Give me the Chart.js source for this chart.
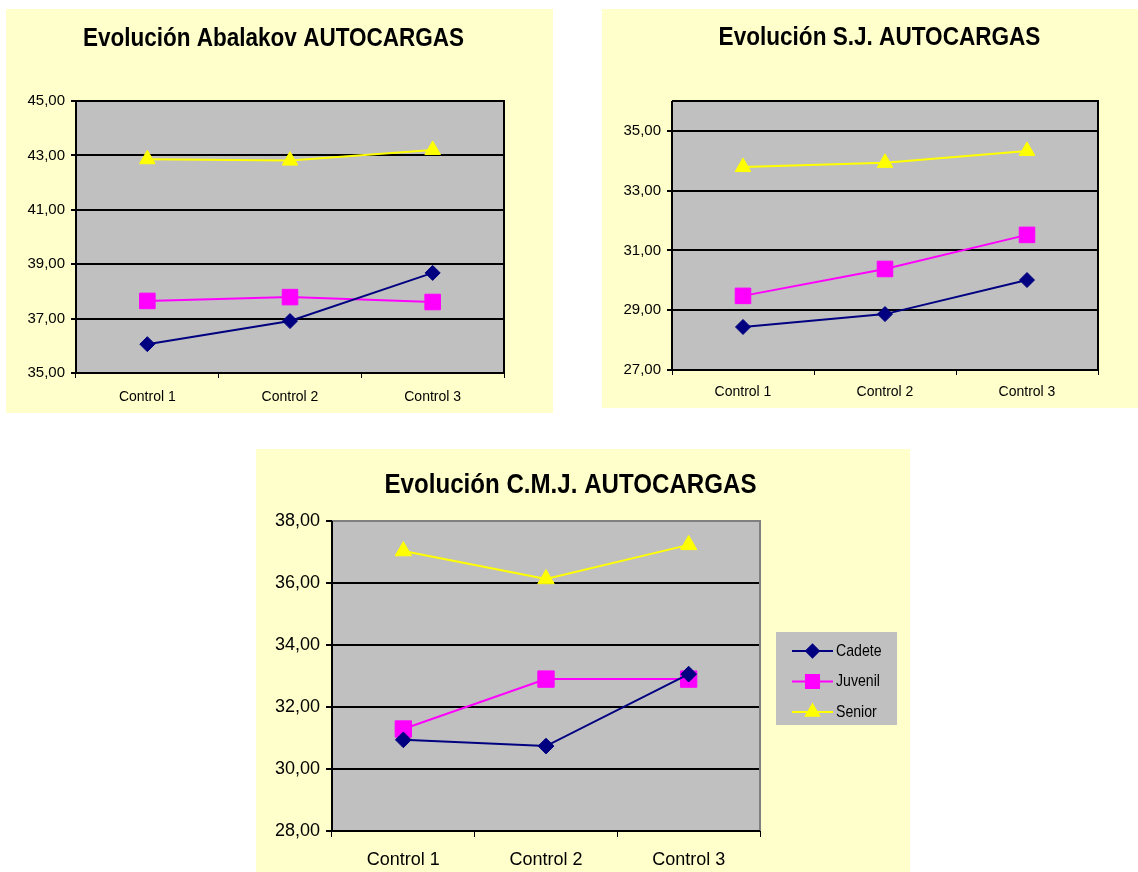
<!DOCTYPE html>
<html lang="es">
<head>
  <meta charset="UTF-8">
  <title>Evolución AUTOCARGAS</title>
  <script src="https://cdn.jsdelivr.net/npm/chart.js"></script>
  <style>
    body { margin: 0; background: #ffffff; }
    .panel { position: absolute; background: #ffffcc; }
    .panel canvas { display: block; }
  </style>
</head>
<body>
  <div class="panel" style="left:6px; top:9px; width:547px; height:404px;">
    <canvas id="abalakovChart" width="547" height="404"></canvas>
  </div>
  <div class="panel" style="left:602px; top:9px; width:536px; height:399px;">
    <canvas id="sjChart" width="536" height="399"></canvas>
  </div>
  <div class="panel" style="left:256px; top:449px; width:654px; height:423px;">
    <canvas id="cmjChart" width="654" height="423"></canvas>
  </div>

  <script>
    // categories and series
    const controles = ['Control 1', 'Control 2', 'Control 3'];
    const grupos = ['Cadete', 'Juvenil', 'Senior'];

    // Abalakov
    const abalakovCadete = [36.06, 36.91, 38.68];
    const abalakovJuvenil = [37.65, 37.79, 37.61];
    const abalakovSenior = [42.86, 42.81, 43.2];
    const abalakovTicks = [35, 37, 39, 41, 43, 45];

    // S.J.
    const sjCadete = [28.44, 28.87, 30.01];
    const sjJuvenil = [29.48, 30.38, 31.52];
    const sjSenior = [33.79, 33.93, 34.33];
    const sjTicks = [27, 29, 31, 33, 35];

    // C.M.J.
    const cmjCadete = [30.94, 30.74, 33.06];
    const cmjJuvenil = [31.29, 32.9, 32.9];
    const cmjSenior = [37.03, 36.13, 37.23];
    const cmjTicks = [28, 30, 32, 34, 36, 38];

    const ARIAL = '"Liberation Sans", Arial, sans-serif';

    // excel look for the three series
    const estilos = [
      { color: '#000080', pointStyle: 'rectRot', radius: 7.5 },
      { color: '#ff00ff', pointStyle: 'rect', radius: 11 },
      { color: '#ffff00', pointStyle: 'triangle', radius: 9 }
    ];

    // grey plot area + frame
    const plotFrame = {
      id: 'plotFrame',
      beforeDraw(chart) {
        const { ctx, chartArea: a } = chart;
        ctx.save();
        ctx.fillStyle = '#c0c0c0';
        ctx.fillRect(a.left, a.top, a.width, a.height);
        ctx.restore();
      },
      beforeDatasetsDraw(chart, args, opts) {
        const { ctx, chartArea: a } = chart;
        ctx.save();
        ctx.lineWidth = 2;
        ctx.strokeStyle = opts.edge || '#000';
        ctx.beginPath();
        ctx.moveTo(a.left, a.top);
        ctx.lineTo(a.right, a.top);
        ctx.lineTo(a.right, a.bottom);
        ctx.stroke();
        ctx.strokeStyle = '#000';
        ctx.beginPath();
        ctx.moveTo(a.left, a.top);
        ctx.lineTo(a.left, a.bottom);
        ctx.lineTo(a.right, a.bottom);
        ctx.stroke();
        ctx.restore();
      }
    };

    // Arial Narrow is not around, so squeeze Arial bold a bit
    const narrowTitle = {
      id: 'narrowTitle',
      afterDraw(chart, args, o) {
        const ctx = chart.ctx;
        ctx.save();
        ctx.font = 'bold ' + o.size + 'px ' + ARIAL;
        ctx.fillStyle = '#000';
        ctx.textAlign = 'center';
        ctx.textBaseline = 'alphabetic';
        ctx.translate(o.x, o.y);
        ctx.scale(o.stretch, 1);
        ctx.fillText(o.text, 0, 0);
        ctx.restore();
      }
    };

    function drawMarker(ctx, style, radius, x, y) {
      if (Chart.helpers && Chart.helpers.drawPoint) {
        Chart.helpers.drawPoint(ctx, { pointStyle: style, radius: radius, borderWidth: 1, rotation: 0 }, x, y);
        return;
      }
      ctx.beginPath();
      ctx.arc(x, y, radius * 0.7, 0, Math.PI * 2);
      ctx.fill();
    }

    // excel style legend box (grey box, line + marker), right of the plot
    const excelLegend = {
      id: 'excelLegend',
      afterDraw(chart, args, o) {
        if (!o.show) return;
        const ctx = chart.ctx;
        const a = chart.chartArea;
        const bx = a.right + 16;
        const by = (a.top + a.bottom) / 2 - 44;
        ctx.save();
        ctx.fillStyle = '#c0c0c0';
        ctx.fillRect(bx, by, 121, 93);
        ctx.font = '17px ' + ARIAL;
        ctx.textBaseline = 'middle';
        ctx.textAlign = 'left';
        chart.data.datasets.forEach((ds, i) => {
          const y = by + 19 + i * 30.5;
          ctx.strokeStyle = ds.borderColor;
          ctx.fillStyle = ds.borderColor;
          ctx.lineWidth = 2;
          ctx.beginPath();
          ctx.moveTo(bx + 16, y);
          ctx.lineTo(bx + 57, y);
          ctx.stroke();
          drawMarker(ctx, ds.pointStyle, ds.pointRadius * 0.8, bx + 36.5, y);
          ctx.fillStyle = '#000';
          ctx.save();
          ctx.translate(bx + 60, y);
          ctx.scale(0.83, 1);
          ctx.fillText(ds.label, 0, 0);
          ctx.restore();
        });
        ctx.restore();
      }
    };

    function makeChart(id, c) {
      const series = [c.cadete, c.juvenil, c.senior];
      const datasets = series.map((data, i) => ({
        label: grupos[i],
        data: data,
        borderColor: estilos[i].color,
        backgroundColor: estilos[i].color,
        borderWidth: 2,
        pointStyle: estilos[i].pointStyle,
        pointRadius: estilos[i].radius * c.markerScale,
        pointHoverRadius: estilos[i].radius * c.markerScale,
        pointBorderWidth: 1,
        pointBackgroundColor: estilos[i].color,
        pointBorderColor: estilos[i].color,
        tension: 0,
        clip: false
      }));

      return new Chart(document.getElementById(id), {
        type: 'line',
        data: { labels: controles, datasets: datasets },
        plugins: [plotFrame, narrowTitle, excelLegend],
        options: {
          responsive: false,
          animation: false,
          layout: { padding: { left: 0, right: c.padRight, top: c.padTop, bottom: 0 } },
          plugins: {
            legend: { display: false },
            tooltip: { enabled: false },
            title: { display: false },
            narrowTitle: c.title,
            plotFrame: { edge: c.edge },
            excelLegend: { show: c.legend }
          },
          scales: {
            x: {
              offset: true,
              grid: { offset: true, drawOnChartArea: false, drawTicks: true, tickLength: c.tick, color: '#000', lineWidth: 1 },
              border: { display: false },
              ticks: { color: '#000', font: { family: ARIAL, size: c.xFont }, padding: c.xPad, maxRotation: 0, autoSkip: false },
              afterFit(s) { s.height = c.xHeight; }
            },
            y: {
              min: c.min,
              max: c.max,
              afterBuildTicks(s) { s.ticks = c.ticks.map(v => ({ value: v })); },
              grid: { color: '#000', lineWidth: 2, drawTicks: true, tickLength: c.tick },
              border: { display: false },
              ticks: {
                color: '#000',
                font: { family: ARIAL, size: c.yFont },
                padding: 6,
                callback: v => v.toFixed(2).replace('.', ',')
              },
              afterFit(s) { s.width = c.yWidth; }
            }
          }
        }
      });
    }

    makeChart('abalakovChart', {
      title: { text: 'Evolución Abalakov AUTOCARGAS', size: 26, stretch: 0.866, x: 267.5, y: 37 },
      cadete: abalakovCadete, juvenil: abalakovJuvenil, senior: abalakovSenior,
      min: 35, max: 45, ticks: abalakovTicks,
      padTop: 92, padRight: 49, legend: false,
      yWidth: 70, xHeight: 40, xPad: 11, tick: 5, xFont: 14, yFont: 15,
      edge: '#000', markerScale: 1
    });

    makeChart('sjChart', {
      title: { text: 'Evolución S.J. AUTOCARGAS', size: 26, stretch: 0.868, x: 277.5, y: 36 },
      cadete: sjCadete, juvenil: sjJuvenil, senior: sjSenior,
      min: 27, max: 36, ticks: sjTicks,
      padTop: 92, padRight: 40, legend: false,
      yWidth: 70, xHeight: 38, xPad: 9, tick: 5, xFont: 14, yFont: 15,
      edge: '#000', markerScale: 1
    });

    makeChart('cmjChart', {
      title: { text: 'Evolución C.M.J. AUTOCARGAS', size: 27, stretch: 0.893, x: 314.5, y: 44 },
      cadete: cmjCadete, juvenil: cmjJuvenil, senior: cmjSenior,
      min: 28, max: 38, ticks: cmjTicks,
      padTop: 72, padRight: 150, legend: true,
      yWidth: 76, xHeight: 41, xPad: 12, tick: 6, xFont: 18, yFont: 18,
      edge: '#808080', markerScale: 1.05
    });
  </script>
</body>
</html>
